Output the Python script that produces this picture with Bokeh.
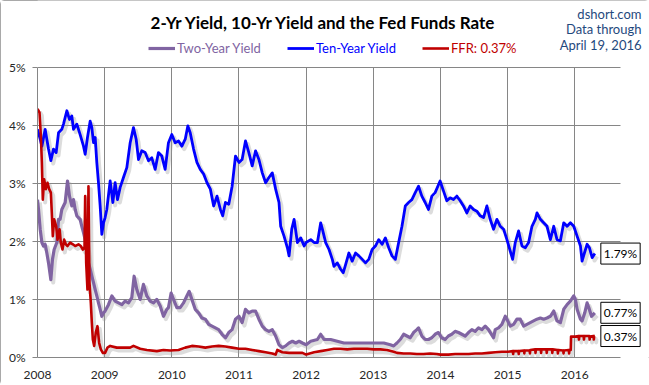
from bokeh.plotting import figure
from bokeh.models import (ColumnDataSource, Label, Legend, LegendItem, FixedTicker,
                          PrintfTickFormatter, Range1d, Grid)
from bokeh.transform import dodge
from bokeh.embed import file_html
from bokeh.resources import INLINE

# ---------------- data ----------------
YEARS = [2008, 2009, 2010, 2011, 2012, 2013, 2014, 2015, 2016]
PCT_TICKS = [0, 1, 2, 3, 4, 5]

ten_x = [2008.000, 2008.040, 2008.065, 2008.114, 2008.139, 2008.164, 2008.199, 2008.238, 2008.278, 2008.313,
         2008.362, 2008.387, 2008.437, 2008.476, 2008.511, 2008.536, 2008.586, 2008.635, 2008.685, 2008.710,
         2008.744, 2008.784, 2008.809, 2008.834, 2008.859, 2008.883, 2008.908, 2008.933, 2008.958, 2008.983,
         2009.007, 2009.032, 2009.082, 2009.122, 2009.156, 2009.191, 2009.231, 2009.280, 2009.330, 2009.380,
         2009.429, 2009.469, 2009.504, 2009.553, 2009.603, 2009.653, 2009.702, 2009.752, 2009.801, 2009.851,
         2009.901, 2009.950,
         2010.000, 2010.050, 2010.100, 2010.150, 2010.200, 2010.239, 2010.274, 2010.324, 2010.374, 2010.424,
         2010.474, 2010.524, 2010.574, 2010.623, 2010.673, 2010.723, 2010.758, 2010.798, 2010.848, 2010.898,
         2010.948,
         2011.000, 2011.047, 2011.097, 2011.147, 2011.197, 2011.247, 2011.297, 2011.347, 2011.397, 2011.446,
         2011.496, 2011.546, 2011.596, 2011.621, 2011.671, 2011.721, 2011.746, 2011.786, 2011.821, 2011.870,
         2011.920, 2011.970,
         2012.000, 2012.069, 2012.119, 2012.168, 2012.217, 2012.242, 2012.291, 2012.341, 2012.390, 2012.415,
         2012.464, 2012.514, 2012.553, 2012.588, 2012.637, 2012.686, 2012.736, 2012.785, 2012.835, 2012.884,
         2012.933, 2012.983,
         2013.032, 2013.081, 2013.131, 2013.180, 2013.230, 2013.279, 2013.328, 2013.378, 2013.427, 2013.477,
         2013.526, 2013.575, 2013.625, 2013.674, 2013.723, 2013.773, 2013.822, 2013.872, 2013.921, 2013.995,
         2014.045, 2014.095, 2014.144, 2014.194, 2014.244, 2014.294, 2014.343, 2014.393, 2014.443, 2014.493,
         2014.542, 2014.592, 2014.642, 2014.692, 2014.741, 2014.791, 2014.841, 2014.891, 2014.940, 2014.990,
         2015.040, 2015.075, 2015.114, 2015.164, 2015.214, 2015.264, 2015.313, 2015.363, 2015.413, 2015.438,
         2015.488, 2015.537, 2015.587, 2015.637, 2015.687, 2015.736, 2015.786, 2015.836, 2015.886, 2015.935,
         2015.985,
         2016.035, 2016.085, 2016.109, 2016.144, 2016.184, 2016.219, 2016.259, 2016.299]
ten_y = [3.93, 3.76, 3.64, 3.93, 3.76, 3.59, 3.39, 3.59, 3.53, 3.87,
         3.93, 4.02, 4.25, 4.10, 4.16, 3.93, 4.02, 3.84, 3.64, 3.50,
         3.79, 4.07, 3.96, 3.70, 3.79, 3.36, 3.01, 2.61, 2.12, 2.32,
         2.41, 2.55, 3.04, 2.67, 3.01, 2.72, 2.93, 3.10, 3.27, 3.70,
         3.96, 3.76, 3.41, 3.56, 3.53, 3.39, 3.44, 3.24, 3.53, 3.47,
         3.24, 3.70,
         3.84, 3.70, 3.73, 3.64, 3.76, 3.99, 3.87, 3.59, 3.36, 3.24,
         3.16, 3.01, 2.90, 2.61, 2.78, 2.55, 2.44, 2.67, 2.64, 2.95,
         3.47,
         3.36, 3.41, 3.73, 3.53, 3.30, 3.56, 3.41, 3.18, 3.01, 3.10,
         3.18, 2.90, 2.67, 2.26, 2.09, 1.89, 1.75, 2.21, 2.38, 1.98,
         2.06, 1.92,
         1.98, 2.03, 1.98, 1.98, 2.32, 2.21, 1.98, 1.86, 1.69, 1.57,
         1.63, 1.52, 1.46, 1.60, 1.80, 1.66, 1.80, 1.75, 1.69, 1.63,
         1.69, 1.86,
         1.92, 2.03, 1.95, 2.06, 1.89, 1.75, 1.69, 1.98, 2.26, 2.61,
         2.67, 2.72, 2.84, 2.95, 2.78, 2.67, 2.55, 2.78, 2.84, 3.04,
         2.87, 2.70, 2.75, 2.72, 2.78, 2.70, 2.61, 2.49, 2.61, 2.55,
         2.52, 2.44, 2.41, 2.61, 2.38, 2.21, 2.38, 2.26, 2.21, 2.03,
         1.83, 1.69, 1.98, 2.18, 1.92, 1.89, 1.98, 2.26, 2.38, 2.49,
         2.38, 2.32, 2.26, 2.03, 2.26, 2.03, 2.01, 2.32, 2.26, 2.32,
         2.26,
         2.09, 1.92, 1.66, 1.80, 1.95, 1.89, 1.72, 1.79]

two_x = [2008.000, 2008.015, 2008.040, 2008.065, 2008.089, 2008.114, 2008.139, 2008.164, 2008.199, 2008.223,
         2008.248, 2008.288, 2008.313, 2008.337, 2008.362, 2008.387, 2008.412, 2008.447, 2008.476, 2008.511,
         2008.536, 2008.561, 2008.586, 2008.635, 2008.660, 2008.685, 2008.710, 2008.734, 2008.759, 2008.784,
         2008.809, 2008.834, 2008.859, 2008.883, 2008.908, 2008.933, 2008.958, 2008.983,
         2009.007, 2009.057, 2009.107, 2009.156, 2009.206, 2009.256, 2009.305, 2009.355, 2009.404, 2009.439,
         2009.479, 2009.529, 2009.578, 2009.628, 2009.677, 2009.727, 2009.777, 2009.826, 2009.876, 2009.926,
         2009.950, 2009.990,
         2010.025, 2010.075, 2010.125, 2010.175, 2010.224, 2010.259, 2010.299, 2010.349, 2010.399, 2010.449,
         2010.499, 2010.549, 2010.599, 2010.648, 2010.698, 2010.748, 2010.798, 2010.848, 2010.898, 2010.948,
         2011.000, 2011.047, 2011.097, 2011.147, 2011.197, 2011.247, 2011.297, 2011.347, 2011.397, 2011.446,
         2011.496, 2011.546, 2011.596, 2011.646, 2011.696, 2011.746, 2011.796, 2011.845, 2011.895, 2011.945,
         2012.000, 2012.069, 2012.168, 2012.217, 2012.267, 2012.365, 2012.464, 2012.563, 2012.662, 2012.760,
         2012.859, 2012.958,
         2013.057, 2013.156, 2013.254, 2013.304, 2013.353, 2013.402, 2013.452, 2013.501, 2013.551, 2013.600,
         2013.649, 2013.674, 2013.723, 2013.773, 2013.822, 2013.872, 2013.921, 2013.970,
         2014.020, 2014.070, 2014.119, 2014.169, 2014.219, 2014.269, 2014.318, 2014.368, 2014.418, 2014.468,
         2014.517, 2014.567, 2014.617, 2014.667, 2014.716, 2014.791, 2014.816, 2014.866, 2014.915, 2014.965,
         2014.990,
         2015.040, 2015.090, 2015.139, 2015.189, 2015.239, 2015.289, 2015.338, 2015.388, 2015.438, 2015.488,
         2015.537, 2015.587, 2015.637, 2015.687, 2015.736, 2015.786, 2015.836, 2015.886, 2015.935, 2015.985,
         2016.010, 2016.035, 2016.085, 2016.109, 2016.149, 2016.184, 2016.209, 2016.249, 2016.299]
two_y = [2.72, 2.55, 2.21, 1.98, 1.92, 1.95, 1.80, 1.63, 1.34, 1.69,
         1.86, 1.98, 2.38, 2.38, 2.55, 2.61, 2.67, 3.04, 2.78, 2.61,
         2.72, 2.55, 2.44, 2.38, 2.26, 2.15, 2.03, 1.86, 1.63, 1.52,
         1.40, 1.29, 1.17, 1.06, 0.94, 0.83, 0.71, 0.77,
         0.80, 0.91, 1.06, 0.97, 0.94, 0.91, 0.97, 0.94, 1.03, 1.40,
         1.17, 1.00, 1.26, 1.06, 0.97, 0.94, 1.00, 0.89, 0.71, 0.83,
         0.86, 1.11,
         1.00, 0.86, 0.86, 0.94, 1.06, 1.14, 1.00, 0.83, 0.77, 0.68,
         0.66, 0.57, 0.54, 0.51, 0.48, 0.40, 0.34, 0.43, 0.48, 0.66,
         0.71, 0.60, 0.83, 0.77, 0.80, 0.80, 0.66, 0.54, 0.48, 0.45,
         0.48, 0.37, 0.22, 0.17, 0.20, 0.25, 0.28, 0.25, 0.28, 0.25,
         0.22, 0.28, 0.31, 0.40, 0.31, 0.31, 0.28, 0.25, 0.25, 0.25,
         0.25, 0.25,
         0.25, 0.25, 0.22, 0.20, 0.25, 0.31, 0.40, 0.37, 0.34, 0.43,
         0.48, 0.51, 0.37, 0.31, 0.31, 0.34, 0.40, 0.43,
         0.34, 0.31, 0.37, 0.40, 0.45, 0.43, 0.40, 0.37, 0.43, 0.48,
         0.45, 0.51, 0.48, 0.54, 0.48, 0.34, 0.48, 0.51, 0.57, 0.71,
         0.66,
         0.54, 0.57, 0.66, 0.66, 0.54, 0.57, 0.60, 0.63, 0.66, 0.68,
         0.66, 0.68, 0.71, 0.80, 0.63, 0.60, 0.83, 0.91, 0.97, 1.06,
         1.00, 0.83, 0.66, 0.63, 0.77, 0.94, 0.86, 0.71, 0.77]

ffr_x = [2008.000, 2008.030, 2008.050, 2008.065, 2008.079, 2008.099, 2008.124, 2008.149, 2008.174, 2008.199,
         2008.213, 2008.228, 2008.248, 2008.278, 2008.298, 2008.328, 2008.347, 2008.372, 2008.397, 2008.422,
         2008.447, 2008.486, 2008.526, 2008.561, 2008.610, 2008.645, 2008.675, 2008.700, 2008.710, 2008.725,
         2008.744, 2008.759, 2008.774, 2008.794, 2008.809, 2008.824, 2008.844, 2008.868, 2008.893, 2008.918,
         2008.943, 2008.973,
         2009.007, 2009.042, 2009.082, 2009.181, 2009.280, 2009.380, 2009.429, 2009.529, 2009.628, 2009.777,
         2009.876, 2009.975,
         2010.100, 2010.200, 2010.299, 2010.399, 2010.499, 2010.599, 2010.698, 2010.798, 2010.898,
         2011.000, 2011.097, 2011.197, 2011.297, 2011.397, 2011.496, 2011.546, 2011.571, 2011.646, 2011.746,
         2011.845, 2011.945,
         2012.000, 2012.119, 2012.217, 2012.316, 2012.415, 2012.514, 2012.612, 2012.711, 2012.810, 2012.909,
         2013.007, 2013.106, 2013.205, 2013.304, 2013.353, 2013.452, 2013.551, 2013.649, 2013.748, 2013.847,
         2013.946,
         2014.000, 2014.119, 2014.219, 2014.318, 2014.418, 2014.517, 2014.617, 2014.716, 2014.816, 2014.915,
         2015.005, 2015.078, 2015.083, 2015.088, 2015.161, 2015.166, 2015.171, 2015.244, 2015.249, 2015.254,
         2015.328, 2015.333, 2015.338, 2015.411, 2015.416, 2015.421, 2015.494, 2015.499, 2015.504, 2015.578,
         2015.583, 2015.588, 2015.661, 2015.666, 2015.671, 2015.744, 2015.749, 2015.754, 2015.828, 2015.833,
         2015.838, 2015.911, 2015.916, 2015.921, 2015.940, 2015.945,
         2016.010, 2016.058, 2016.063, 2016.068, 2016.132, 2016.137, 2016.142, 2016.217, 2016.222, 2016.227,
         2016.279, 2016.284, 2016.289, 2016.299]
ffr_y = [4.28, 4.22, 3.82, 3.36, 2.72, 3.07, 2.90, 3.01, 2.90, 2.84,
         2.49, 2.09, 2.38, 2.26, 2.03, 2.21, 1.98, 1.86, 2.03, 1.95,
         1.92, 1.98, 1.95, 1.92, 1.95, 1.92, 1.86, 1.89, 2.78, 1.63,
         1.17, 2.95, 1.29, 0.94, 0.60, 0.31, 0.20, 0.43, 0.54, 0.25,
         0.14, 0.08,
         0.08, 0.17, 0.20, 0.17, 0.17, 0.17, 0.20, 0.15, 0.13, 0.11,
         0.13, 0.12,
         0.13, 0.17, 0.20, 0.19, 0.17, 0.19, 0.20, 0.19, 0.17,
         0.15, 0.15, 0.13, 0.11, 0.09, 0.07, 0.05, 0.13, 0.09, 0.08,
         0.08, 0.08,
         0.05, 0.09, 0.11, 0.13, 0.15, 0.15, 0.14, 0.15, 0.15, 0.15,
         0.14, 0.14, 0.13, 0.10, 0.08, 0.07, 0.07, 0.06, 0.06, 0.07,
         0.06,
         0.05, 0.05, 0.06, 0.06, 0.06, 0.07, 0.07, 0.08, 0.09, 0.10,
         0.10, 0.11, 0.06, 0.11, 0.11, 0.06, 0.11, 0.12, 0.07, 0.12,
         0.12, 0.07, 0.13, 0.14, 0.08, 0.14, 0.14, 0.08, 0.14, 0.14,
         0.08, 0.14, 0.14, 0.08, 0.14, 0.13, 0.07, 0.13, 0.12, 0.07,
         0.12, 0.13, 0.07, 0.13, 0.13, 0.36,
         0.36, 0.37, 0.31, 0.37, 0.37, 0.31, 0.37, 0.37, 0.31, 0.36,
         0.37, 0.31, 0.37, 0.37]

SERIES_NAMES = ["Two-Year Yield", "Ten-Year Yield", "FFR: 0.37%"]
TITLE = "2-Yr Yield, 10-Yr Yield and the Fed Funds Rate"
CREDIT = ["dshort.com", "Data through", "April 19, 2016"]

# ---------------- styling ----------------
FONT = "Lato"
PURPLE = "#8064A2"
BLUE = "#0000FF"
RED = "#C00000"
GRID = "#868686"
NAVY = "#1F497D"
X_END = 2016.68      # where the plot area (grid / axis) ends

p = figure(width=649, height=385, output_backend="svg", toolbar_location=None,
           x_range=Range1d(2008, 2017.113), y_range=Range1d(0, 6.149),
           min_border_left=37, min_border_right=0, min_border_top=0, min_border_bottom=28)
p.background_fill_color = "white"
p.border_fill_color = "white"
p.outline_line_color = None
p.styles = {"outline": "1px solid #8c8c8c", "outline-offset": "-1px", "border-radius": "4px"}

p.xaxis.ticker = FixedTicker(ticks=YEARS)
p.xaxis.formatter = PrintfTickFormatter(format="%d")
p.yaxis.ticker = FixedTicker(ticks=PCT_TICKS)
p.yaxis.formatter = PrintfTickFormatter(format="%d%%")
p.xaxis.bounds = (YEARS[0], X_END)
p.yaxis.bounds = (PCT_TICKS[0], PCT_TICKS[-1])
p.axis.axis_line_color = GRID
p.axis.minor_tick_line_color = None
p.xaxis.major_tick_line_color = None
p.yaxis.major_tick_line_color = GRID
p.yaxis.major_tick_in = 0
p.yaxis.major_tick_out = 5
p.axis.major_label_text_font = FONT
p.axis.major_label_text_font_size = "12px"
p.axis.major_label_text_color = "#262626"
p.xaxis.major_label_standoff = 7
p.yaxis.major_label_standoff = 7

# grid lines limited to the plot area
if "cross_bounds" in Grid.properties():
    p.xgrid.ticker = FixedTicker(ticks=YEARS)
    p.ygrid.ticker = FixedTicker(ticks=PCT_TICKS)
    p.xgrid.cross_bounds = (PCT_TICKS[0], PCT_TICKS[-1])
    p.ygrid.cross_bounds = (YEARS[0], X_END)
    p.grid.grid_line_color = GRID
    p.grid.grid_line_width = 1
else:
    p.grid.grid_line_color = None
    p.segment(x0=YEARS, y0=[PCT_TICKS[0]] * len(YEARS), x1=YEARS, y1=[PCT_TICKS[-1]] * len(YEARS),
              line_color=GRID, line_width=1, level="underlay")
    p.segment(x0=[YEARS[0]] * len(PCT_TICKS), y0=PCT_TICKS, x1=[X_END] * len(PCT_TICKS), y1=PCT_TICKS,
              line_color=GRID, line_width=1, level="underlay")

sources = [ColumnDataSource(dict(x=two_x, y=two_y)),
           ColumnDataSource(dict(x=ten_x, y=ten_y)),
           ColumnDataSource(dict(x=ffr_x, y=ffr_y))]
colors = [PURPLE, BLUE, RED]
widths = [3.2, 2.8, 2.6]

# soft drop shadows (Excel style)
for src in sources:
    p.line(x=dodge("x", 0.035, range=p.x_range), y=dodge("y", -0.05, range=p.y_range),
           source=src, line_color="#9a9a9a", line_alpha=0.35, line_width=4, line_join="round")

renderers = []
for src, c, w in zip(sources, colors, widths):
    renderers.append(p.line("x", "y", source=src, line_color=c, line_width=w, line_join="round"))

# legends (three, each in its own colour); positions in px from the plot area's bottom-left
leg_pos = [(111, 299), (250, 299), (385, 299)]
for r, name, c, loc in zip(renderers, SERIES_NAMES, colors, leg_pos):
    lg = Legend(items=[LegendItem(label=name, renderers=[r])], location=loc,
                orientation="horizontal", padding=0, margin=0, spacing=0,
                glyph_width=27, glyph_height=20, label_standoff=2,
                label_text_font=FONT, label_text_font_size="13px", label_text_color=c,
                background_fill_alpha=0, border_line_color=None)
    p.add_layout(lg, "center")

# title
p.add_layout(Label(x=286, y=335, x_units="screen", y_units="screen", text=TITLE,
                   text_align="center", text_baseline="middle", text_font=FONT,
                   text_font_size="17px", text_font_style="bold", text_color="black"))

# credit lines at top right
for i, line in enumerate(CREDIT):
    p.add_layout(Label(x=604, y=344 - 15.5 * i, x_units="screen", y_units="screen", text=line,
                       text_align="right", text_baseline="middle", text_font=FONT,
                       text_font_size="13px", text_color=NAVY))

# end-value boxes
for xs, ys in [(ten_x, ten_y), (two_x, two_y), (ffr_x, ffr_y)]:
    p.add_layout(Label(x=xs[-1], y=ys[-1], x_offset=6, text=f"{ys[-1]:.2f}%",
                       text_align="left", text_baseline="middle", text_font=FONT,
                       text_font_size="12px", text_color="black",
                       background_fill_color="white", border_line_color="black",
                       border_line_width=1, padding=3))

open("out.html", "w").write(file_html(p, INLINE))
